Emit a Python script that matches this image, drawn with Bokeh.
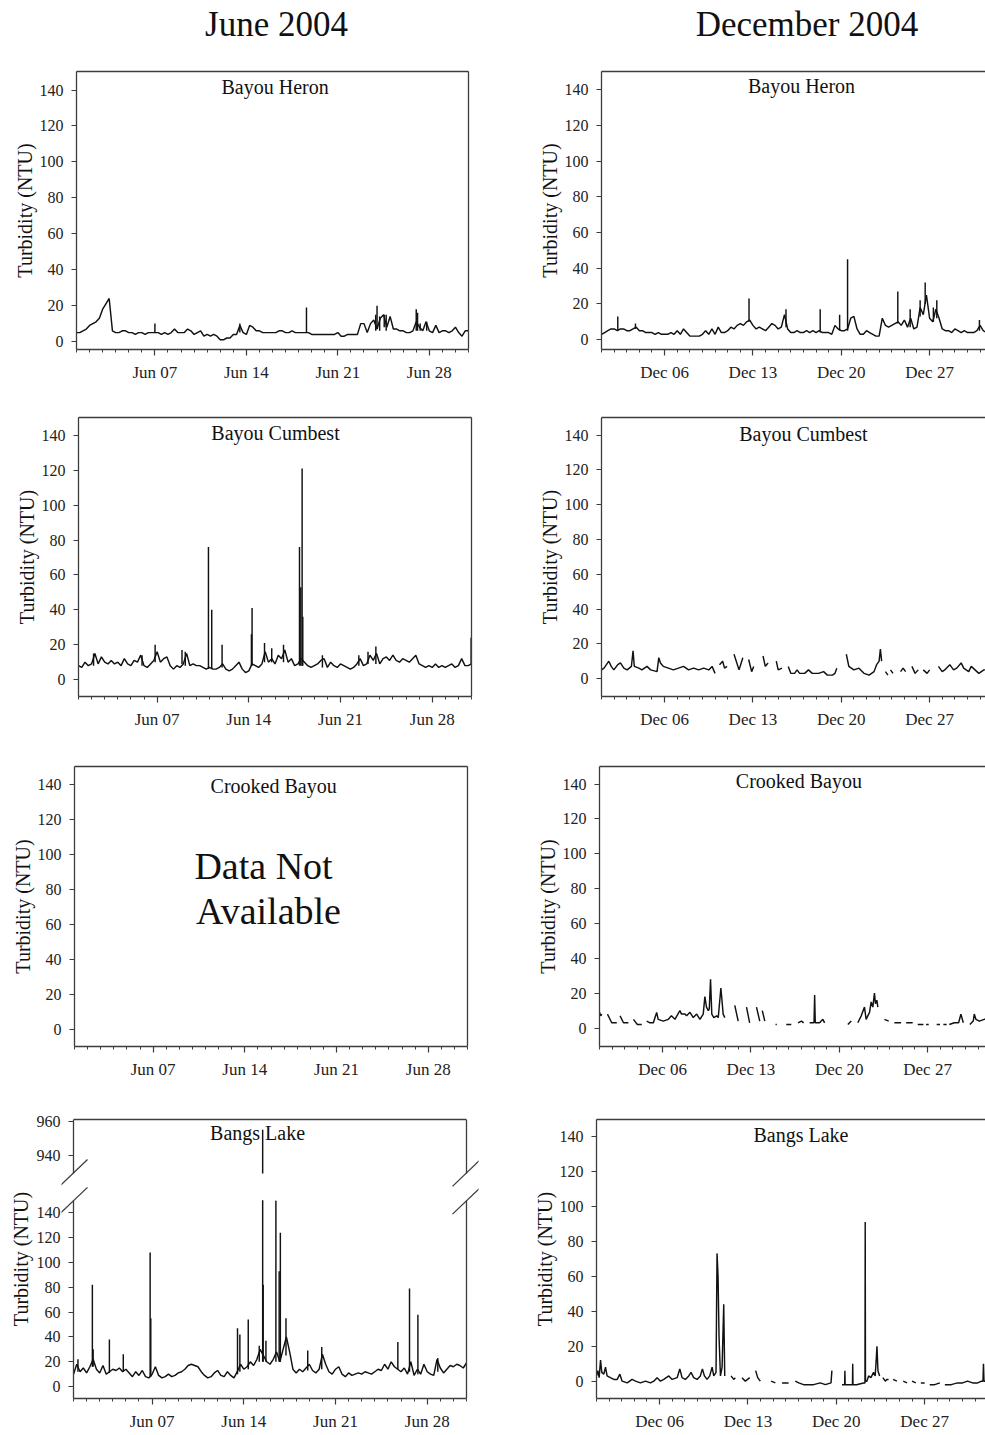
import numpy as np
from bokeh.plotting import figure
from bokeh.layouts import column, row
from bokeh.models import FixedTicker, Range1d, Label, BoxAnnotation, LinearAxis, PolyAnnotation
from bokeh.embed import file_html
from bokeh.resources import INLINE

nan = float("nan")
GAP = (nan, nan)

# ---------------- text / ticks ----------------
column_titles = ["June 2004", "December 2004"]
station_names = ["Bayou Heron", "Bayou Cumbest", "Crooked Bayou", "Bangs Lake"]
y_axis_title = "Turbidity (NTU)"
no_data_text = ["Data Not", "Available"]
jun_tick_days = [6, 13, 20, 27]
jun_tick_labels = ["Jun 07", "Jun 14", "Jun 21", "Jun 28"]
dec_tick_days = [5, 12, 19, 26]
dec_tick_labels = ["Dec 06", "Dec 13", "Dec 20", "Dec 27"]
turbidity_ticks = [0, 20, 40, 60, 80, 100, 120, 140]
broken_ticks = [940, 960]

# ---------------- data (day offset from 1st of month, NTU) ----------------
SAMPLE_STEP = 0.25  # days between regular readings

jun_heron_vals = [
    5, 5, 6, 7, 9, 10, 11, 13, 18, 21, 24, 6,
    5, 5, 6, 6, 5, 5, 4, 5, 5, 4, 5, 5,
    5, 5, 4, 5, 4, 5, 7, 5, 5, 5, 7, 6,
    4, 5, 6, 3, 4, 3, 4, 3, 1, 1, 2, 2,
    4, 4, 9, 5, 4, 9, 8, 6, 6, 5, 5, 5,
    5, 5, 6, 6, 5, 5, 6, 5, 5, 5, 5, 5,
    4, 4, 4, 4, 4, 4, 4, 4, 5, 3, 3, 4,
    4, 4, 4, 10, 10, 5, 10, 12, 7, 13, 15, 8,
    14, 7, 7, 6, 6, 5, 5, 6, 11, 8, 6, 11,
    6, 5, 9, 5, 6, 6, 5, 6, 8, 5, 3, 6,
    6]
jun_heron_spike_day = [6.0, 12.5, 17.6, 22.9, 23.0, 23.2, 23.55, 23.7, 26.0, 26.1, 26.3, 26.8]
jun_heron_spike_base = [5, 5, 5, 6, 7, 6, 8, 6, 6, 6, 6, 6]
jun_heron_spike_peak = [10, 10, 19, 15, 20, 14, 15, 15, 18, 16, 10, 11]

jun_cumbest_vals = [
    8, 7, 10, 8, 9, 15, 9, 13, 10, 9, 11, 9,
    10, 8, 12, 9, 8, 11, 10, 14, 8, 7, 9, 11,
    16, 10, 12, 13, 8, 6, 8, 7, 9, 15, 8, 9,
    8, 8, 7, 6, 7, 6, 6, 7, 9, 6, 5, 6,
    8, 10, 6, 4, 5, 9, 8, 7, 9, 16, 10, 12,
    9, 14, 12, 17, 10, 12, 8, 9, 12, 10, 8, 7,
    8, 9, 11, 12, 7, 10, 8, 7, 9, 8, 7, 6,
    7, 9, 12, 8, 9, 14, 11, 15, 9, 12, 13, 11,
    14, 11, 10, 12, 11, 10, 12, 14, 9, 8, 7, 8,
    7, 9, 7, 8, 7, 8, 9, 7, 8, 12, 8, 8,
    9]
jun_cumbest_spike_day = [1.15, 4.85, 5.85, 7.9, 8.15, 9.92, 10.17, 10.96, 13.2, 13.25, 14.2,
                         14.75, 15.65, 16.87, 16.97, 17.07, 17.12, 18.62, 21.4, 22.1, 22.7, 29.97]
jun_cumbest_spike_base = [8, 8, 10, 9, 8, 6, 6, 7, 8, 8, 10, 10, 10, 8, 8, 8, 8, 7, 8, 9, 9, 9]
jun_cumbest_spike_peak = [15, 14, 20, 17, 16, 76, 40, 20, 26, 41, 21, 18, 20, 76, 53, 121, 36,
                          14, 14, 16, 19, 24]

jun_bangs_vals = [
    10, 18, 12, 15, 11, 16, 22, 14, 11, 17, 10, 12,
    14, 13, 15, 12, 14, 11, 8, 12, 9, 13, 8, 7,
    10, 16, 9, 7, 8, 10, 8, 9, 11, 12, 14, 17,
    18, 17, 16, 12, 9, 7, 8, 11, 13, 9, 8, 12,
    9, 7, 12, 18, 14, 16, 20, 17, 22, 30, 25, 20,
    18, 22, 28, 20, 30, 40, 28, 14, 11, 14, 12, 15,
    18, 13, 11, 14, 26, 18, 12, 10, 14, 16, 10, 8,
    11, 9, 10, 11, 10, 12, 11, 10, 12, 14, 13, 18,
    14, 20, 16, 14, 12, 15, 10, 20, 9, 14, 10, 18,
    12, 10, 9, 22, 15, 11, 14, 17, 16, 18, 17, 15,
    19]
jun_bangs_spike_day = [0.34, 1.44, 1.5, 2.74, 3.8, 5.85, 5.9, 12.52, 12.7, 13.34, 14.18, 14.44,
                       14.48, 14.69, 15.45, 15.7, 15.79, 16.22, 17.88, 18.95, 24.76, 25.65,
                       26.29, 27.81]
jun_bangs_spike_base = [12, 16, 16, 11, 12, 8, 8, 10, 12, 14, 20, 20, 20, 20, 20, 20, 20, 25,
                        13, 14, 14, 12, 10, 12]
jun_bangs_spike_peak = [22, 82, 30, 38, 26, 108, 55, 47, 42, 54, 33, 955, 82, 37, 150, 93, 124,
                        55, 29, 32, 36, 79, 58, 23]

dec_heron_vals = [
    3, 4, 5, 6, 6, 5, 6, 6, 5, 5, 6, 7,
    5, 5, 4, 4, 4, 3, 4, 3, 3, 3, 4, 3,
    5, 3, 6, 4, 2, 2, 2, 2, 3, 5, 3, 6,
    3, 7, 4, 4, 5, 7, 6, 8, 9, 8, 10, 11,
    8, 6, 7, 6, 5, 7, 9, 8, 6, 7, 14, 6,
    4, 4, 5, 4, 4, 5, 4, 5, 4, 5, 4, 4,
    4, 3, 8, 6, 5, 5, 6, 12, 13, 6, 3, 3,
    5, 4, 3, 2, 2, 12, 8, 7, 8, 9, 10, 8,
    11, 7, 12, 6, 7, 18, 14, 25, 12, 10, 17, 12,
    6, 5, 5, 4, 6, 5, 4, 5, 4, 4, 4, 5,
    8, 5, 4]
dec_heron_spike_day = [1.29, 2.69, 11.69, 14.62, 17.33, 18.87, 19.5, 23.48, 24.46, 25.25,
                       25.65, 26.3, 26.57, 29.95]
dec_heron_spike_base = [5, 6, 10, 7, 4, 5, 5, 9, 7, 13, 20, 10, 12, 5]
dec_heron_spike_peak = [13, 9, 23, 17, 17, 14, 45, 27, 17, 22, 32, 18, 22, 11]

dec_cumbest_pts = [
    (0.0, 5), (0.2, 6), (0.58, 10), (0.77, 7), (0.98, 5), (1.29, 8), (1.5, 9), (1.77, 6),
    (2.03, 5), (2.37, 7), (2.5, 16), (2.6, 7), (2.96, 6), (3.2, 5), (3.6, 7), (3.9, 5),
    (4.4, 4), (4.54, 12), (4.67, 9), (4.9, 7), (5.3, 6), (5.7, 5), (6.1, 6), (6.5, 7),
    (6.9, 5), (7.3, 6), (7.7, 5), (8.1, 6), (8.5, 5), (8.76, 7), (9.0, 3), GAP,
    (9.35, 8), (9.6, 10), (9.75, 6), (9.95, 7), GAP,
    (10.5, 14), (10.9, 5), (11.2, 12), GAP,
    (11.66, 11), (11.9, 4), (12.06, 7), GAP,
    (12.8, 13), (12.98, 7), (13.2, 9), GAP,
    (13.85, 10), (14.0, 5), (14.3, 6), GAP,
    (14.8, 7), (15.0, 3), (15.3, 3), (15.5, 5), (15.7, 3), (16.1, 3), (16.4, 5), (16.7, 3),
    (17.2, 3), (17.6, 4), (17.9, 2), (18.3, 2), (18.5, 3), (18.65, 6), GAP,
    (19.4, 14), (19.6, 7), (20.0, 5), (20.4, 6), (20.8, 3), (21.2, 2), (21.6, 4), (21.8, 8),
    (22.0, 10), (22.1, 17), (22.2, 10), GAP,
    (22.5, 4), (22.7, 2), GAP, (22.9, 5), (23.1, 3), GAP,
    (23.7, 4), (23.9, 6), (24.1, 4), GAP,
    (24.6, 7), (24.85, 3), (25.1, 5), GAP,
    (25.5, 5), (25.8, 3), (26.0, 5), GAP,
    (26.7, 7), (27.0, 4), (27.2, 5), (27.6, 8), (27.9, 5), (28.15, 6), (28.5, 9), (28.7, 6),
    (29.1, 4), (29.3, 7), (29.6, 5), (29.9, 3), (30.3, 5), (30.6, 5)]

dec_crooked_pts = [
    (0.0, 9), (0.1, 7), (0.18, 8), GAP,
    (0.63, 8), (0.97, 3), (1.37, 3), GAP,
    (1.63, 7), (1.9, 3), (2.29, 3), GAP,
    (2.69, 5), (3.0, 2), (3.35, 2), GAP,
    (3.74, 4), (4.0, 3), (4.27, 3), (4.4, 6), (4.53, 9), (4.65, 5), (5.05, 4), (5.45, 5),
    (5.7, 7), (5.98, 5), (6.37, 10), (6.5, 8), (6.77, 8), (6.9, 7), (7.17, 9), (7.43, 6),
    (7.7, 8), (7.96, 5), (8.22, 8), (8.35, 18), (8.48, 12), (8.62, 10), (8.7, 11), (8.8, 28),
    (8.9, 8), (9.06, 6), (9.28, 7), (9.41, 6), (9.62, 23), (9.8, 8), (9.93, 6), GAP,
    (10.72, 13), (10.99, 4), GAP,
    (11.65, 12), (11.9, 3), GAP,
    (12.44, 12), (12.7, 4), GAP,
    (12.9, 10), (13.1, 4), GAP,
    (13.95, 2), (14.05, 2), GAP,
    (14.8, 2), (15.2, 2), GAP,
    (15.73, 3), (16.0, 4), (16.18, 3), GAP,
    (16.65, 3), (17.0, 3), (17.05, 19), (17.1, 3), (17.44, 3), (17.7, 5), (17.84, 3), GAP,
    (19.68, 2), (19.95, 4), GAP,
    (20.47, 3), (20.74, 7), (21.0, 12), (21.13, 5), (21.4, 9), (21.53, 15), (21.66, 12),
    (21.79, 20), (21.87, 14), (21.98, 16), (22.06, 12), GAP,
    (22.58, 5), (22.92, 4), GAP,
    (23.37, 3), (23.9, 3), GAP,
    (24.3, 3), (24.82, 3), GAP,
    (25.22, 2), (25.67, 2), GAP,
    (25.88, 2), (26.09, 2), GAP,
    (26.72, 2), (26.98, 2), GAP,
    (27.25, 2), (27.51, 2), GAP,
    (27.72, 2), (28.12, 3), (28.46, 3), (28.64, 8), (28.83, 3), GAP,
    (29.35, 2), (29.62, 4), (29.7, 8), (29.83, 5), (30.1, 4), (30.49, 5), (30.7, 5)]

dec_bangs_pts = [
    (0.0, 3), (0.1, 6), (0.21, 2), (0.32, 12), (0.42, 5), (0.58, 4), (0.71, 8), (0.84, 3),
    (1.1, 2), (1.37, 1), (1.64, 1), (1.85, 4), (2.03, 0), (2.43, -1), (2.82, 1), (3.09, 0),
    (3.48, -1), (3.88, 0), (4.27, -1), (4.54, 0), (4.8, 2), (5.07, 0), (5.33, 1), (5.73, 3),
    (5.99, 1), (6.39, 2), (6.6, 7), (6.78, 2), (7.04, 1), (7.31, 3), (7.49, 5), (7.7, 2),
    (7.97, 1), (8.23, 3), (8.39, 7), (8.55, 3), (8.76, 1), (8.97, 3), (9.16, 8), (9.29, 3),
    (9.47, 5), (9.55, 73), (9.63, 60), (9.71, 25), (9.82, 3), (9.95, 8), (10.08, 44),
    (10.16, 3), GAP,
    (10.66, 3), (10.87, 1), (11.0, 2), GAP,
    (11.53, 2), (11.79, 0), (12.14, 2), GAP,
    (12.61, 6), (12.77, 2), (12.98, 0), GAP,
    (13.83, 0), (14.17, -1), GAP,
    (14.7, -1), (15.22, -1), GAP,
    (15.75, 0), (16.02, -1), (16.41, -2), (17.2, -2), (17.73, -1), (18.13, -2), (18.58, -1),
    (18.65, 6), GAP,
    (19.45, -2), (19.66, -2), (19.68, 6), (19.7, -2), (20.1, -2), (20.28, -2), (20.3, 10),
    (20.32, -2), (20.6, -2), (21.16, -1), (21.27, -1), (21.29, 91), (21.31, 0), (21.42, 0),
    (21.56, 3), (21.74, 2), (21.95, 5), (22.08, 3), (22.16, 12), (22.22, 20), (22.3, 6),
    (22.43, 3), GAP,
    (22.69, 2), (22.88, 0), (23.0, 1), (23.14, 1), GAP,
    (23.5, 1), (23.8, 0), GAP,
    (24.3, 0), (24.6, -1), GAP,
    (25.0, 0), (25.3, -1), GAP,
    (25.7, -1), (26.0, -1), GAP,
    (26.4, -2), (26.8, -2), (27.2, -1), GAP,
    (27.6, -2), (28.1, -2), (28.6, -1), (29.0, -1), (29.4, 0), (29.8, -1), (30.2, -1),
    (30.5, 0), (30.62, 0), (30.66, 10), (30.7, 0), (30.9, 0)]

# ---------------- styling ----------------
FONT = "Liberation Serif"
INK = "#111111"
AXC = "#3c3c3c"
LW, RW = 520, 465
LINE_W = 1.45


def grid_days(vals):
    return [i * SAMPLE_STEP for i in range(len(vals))]


def unzip(pts):
    return [p[0] for p in pts], [p[1] for p in pts]


def broken(v):
    v = np.asarray(v, dtype=float)
    return np.where(v > 900, 186 + (v - 940) * 1.4, v)


def border_axis(bounds="auto", fixed_location=None):
    return LinearAxis(ticker=FixedTicker(ticks=[], minor_ticks=[]), bounds=bounds,
                      fixed_location=fixed_location,
                      axis_line_color=AXC, axis_line_width=1.3,
                      major_tick_line_color=None, minor_tick_line_color=None,
                      major_tick_out=0, major_tick_in=0, minor_tick_out=0, minor_tick_in=0,
                      major_label_text_color=None, major_label_standoff=0)


def style_y(ax):
    ax.major_tick_out, ax.major_tick_in = 5, 0
    ax.minor_tick_line_color = None
    ax.major_label_standoff = 8
    ax.major_label_text_font_size = "16px"
    ax.major_label_text_font = FONT
    ax.major_label_text_color = "#222222"
    ax.axis_line_color = AXC
    ax.axis_line_width = 1.3
    ax.major_tick_line_color = AXC
    ax.major_tick_line_width = 1.2


def style_label(ax):
    ax.axis_label = y_axis_title
    ax.axis_label_text_font = FONT
    ax.axis_label_text_font_size = "20px"
    ax.axis_label_text_font_style = "normal"
    ax.axis_label_text_color = INK


def make_panel(cw, ch, fl, ft, fw, fh, xr, yr, month, right_border, label_standoff=7,
               x_bounds="auto"):
    p = figure(width=cw, height=ch, x_range=Range1d(*xr), y_range=Range1d(*yr),
               output_backend="svg", toolbar_location=None,
               min_border_left=fl, min_border_top=ft,
               min_border_right=cw - fl - fw, min_border_bottom=ch - ft - fh)
    p.grid.visible = False
    p.outline_line_color = None
    p.background_fill_color = "white"
    p.border_fill_color = "white"
    if month == "jun":
        ticks, labels = jun_tick_days, jun_tick_labels
    else:
        ticks, labels = dec_tick_days, dec_tick_labels
    xa = p.xaxis[0]
    xa.ticker = FixedTicker(ticks=ticks, minor_ticks=list(range(0, 32)))
    xa.major_label_overrides = {t: l for t, l in zip(ticks, labels)}
    xa.bounds = x_bounds
    xa.major_tick_out, xa.major_tick_in = 6, 0
    xa.minor_tick_out, xa.minor_tick_in = 3, 0
    xa.major_label_standoff = label_standoff
    xa.major_label_text_font_size = "17px"
    xa.major_label_text_font = FONT
    xa.major_label_text_color = "#222222"
    xa.axis_line_color = AXC
    xa.axis_line_width = 1.3
    xa.major_tick_line_color = AXC
    xa.major_tick_line_width = 1.2
    xa.minor_tick_line_color = AXC
    ya = p.yaxis[0]
    ya.ticker = FixedTicker(ticks=turbidity_ticks, minor_ticks=[])
    style_y(ya)
    style_label(ya)
    ya.axis_label_standoff = 1
    p.add_layout(border_axis(bounds=x_bounds), "above")
    if right_border:
        p.add_layout(border_axis(), "right")
    return p


def add_text(p, x, y, text, size="20px"):
    p.add_layout(Label(x=x, y=y, text=text, text_font=FONT, text_font_size=size,
                       text_color=INK, text_align="center", text_baseline="middle"))


def draw_series(p, xs, ys, yf=None):
    ys = np.asarray(ys, dtype=float)
    if yf is not None:
        ys = yf(ys)
    p.line(xs, ys, line_color=INK, line_width=LINE_W)


def draw_spikes(p, d, b, pk, yf=None):
    b = np.asarray(b, dtype=float)
    pk = np.asarray(pk, dtype=float)
    if yf is not None:
        b, pk = yf(b), yf(pk)
    p.segment(x0=d, y0=b, x1=d, y1=pk, line_color=INK, line_width=LINE_W)


def make_header(w, h, text, cx, cy):
    p = figure(width=w, height=h, x_range=Range1d(0, w), y_range=Range1d(0, h),
               output_backend="svg", toolbar_location=None,
               x_axis_location=None, y_axis_location=None, min_border=0)
    p.grid.visible = False
    p.outline_line_color = None
    p.add_layout(Label(x=cx, y=cy, text=text, text_font=FONT, text_font_size="35px",
                       text_color=INK, text_align="center", text_baseline="middle"))
    return p


# ---------------- header ----------------
h1 = make_header(LW, 58, column_titles[0], 276, 34.5)
h2 = make_header(RW, 58, column_titles[1], 286.5, 34.5)

# ---------------- row 1 : Bayou Heron ----------------
pA = make_panel(LW, 332, 76, 11, 392, 280, (0, 30), (-4.4, 150.3), "jun", True)
draw_series(pA, grid_days(jun_heron_vals), jun_heron_vals)
draw_spikes(pA, jun_heron_spike_day, jun_heron_spike_base, jun_heron_spike_peak)
add_text(pA, 15.2, 141.9, station_names[0])

pB = make_panel(RW, 332, 81, 13, 384, 281, (0, 30.43), (-5.5, 150.1), "dec", False)
draw_series(pB, grid_days(dec_heron_vals), dec_heron_vals)
draw_spikes(pB, dec_heron_spike_day, dec_heron_spike_base, dec_heron_spike_peak)
add_text(pB, 15.85, 142.2, station_names[0])

# ---------------- row 2 : Bayou Cumbest ----------------
pC = make_panel(LW, 350, 78, 25, 393, 281, (0, 30), (-9.7, 150.3), "jun", True)
draw_series(pC, grid_days(jun_cumbest_vals), jun_cumbest_vals)
draw_spikes(pC, jun_cumbest_spike_day, jun_cumbest_spike_base, jun_cumbest_spike_peak)
add_text(pC, 15.04, 141.5, station_names[1])

pD = make_panel(RW, 350, 81, 27, 384, 281, (0, 30.43), (-10.3, 150.1), "dec", False)
dx, dy = unzip(dec_cumbest_pts)
draw_series(pD, dx, dy)
add_text(pD, 16.0, 140.8, station_names[1])

# ---------------- row 3 : Crooked Bayou ----------------
pE = make_panel(LW, 350, 74, 26, 393, 280, (0, 30), (-9.5, 150.3), "jun", True)
add_text(pE, 15.2, 139.4, station_names[2])
add_text(pE, 14.43, 93.5, no_data_text[0], "38px")
add_text(pE, 14.81, 68.1, no_data_text[1], "38px")

pF = make_panel(RW, 350, 79, 25, 386, 282, (0, 30.59), (-10.6, 150.1), "dec", False)
fx, fy = unzip(dec_crooked_pts)
draw_series(pF, fx, fy)
add_text(pF, 15.8, 141.5, station_names[2])

# ---------------- row 4 : Bangs Lake (June has a broken y axis) ----------------
G_LO, G_HI = -9.6, 215.3
gap_lo = 150.0
gap_hi = float(broken([930])[0])
gt = [int(round(float(v))) for v in broken(broken_ticks)]

pG = make_panel(LW, 345, 61, 28, 417, 280, (-0.916, 30.916), (G_LO, G_HI), "jun", False,
                x_bounds=(0, 30))
# panel axis: tick labels and title only
gya = pG.yaxis[0]
gya.ticker = FixedTicker(ticks=turbidity_ticks + gt, minor_ticks=[])
gya.major_label_overrides = {t: str(l) for t, l in zip(gt, broken_ticks)}
gya.axis_line_color = None
gya.major_tick_line_color = None
gya.major_tick_out = 0
gya.major_label_standoff = 1
gya.axis_label_standoff = 2
# axis rules and tick marks at day 0, in two pieces around the break
for bnds, tks in (((G_LO, gap_lo), turbidity_ticks), ((gap_hi, G_HI), gt)):
    ax = LinearAxis(fixed_location=0, bounds=bnds, ticker=FixedTicker(ticks=tks, minor_ticks=[]))
    style_y(ax)
    ax.major_label_text_color = None
    ax.major_label_standoff = 0
    pG.add_layout(ax, "left")
for bnds in ((G_LO, gap_lo), (gap_hi, G_HI)):
    pG.add_layout(border_axis(bounds=bnds, fixed_location=30), "right")

draw_series(pG, grid_days(jun_bangs_vals), jun_bangs_vals, broken)
draw_spikes(pG, jun_bangs_spike_day, jun_bangs_spike_base, jun_bangs_spike_peak, broken)
add_text(pG, 14.05, 204.3, station_names[3])
pG.add_layout(BoxAnnotation(left=0.05, right=29.95, bottom=gap_lo + 0.3, top=gap_hi - 0.3,
                            fill_color="white", fill_alpha=1.0, line_alpha=0))
for cx in (0.0, 30.0):
    for y0, y1 in ((161.4, 183.1), (139.0, 160.6)):
        pG.add_layout(PolyAnnotation(xs=[cx - 1.07, cx + 1.07], ys=[y0, y1],
                                     fill_alpha=0, line_color=AXC, line_alpha=1.0,
                                     line_width=1.3))

pH = make_panel(RW, 345, 76, 29, 389, 279, (0, 30.82), (-9.9, 149.5), "dec", False)
hx, hy = unzip(dec_bangs_pts)
draw_series(pH, hx, hy)
add_text(pH, 16.2, 140.4, station_names[3])

layout = column(
    row(h1, h2, spacing=0),
    row(pA, pB, spacing=0),
    row(pC, pD, spacing=0),
    row(pE, pF, spacing=0),
    row(pG, pH, spacing=0),
    spacing=0,
)

open("out.html", "w").write(file_html(layout, INLINE))
